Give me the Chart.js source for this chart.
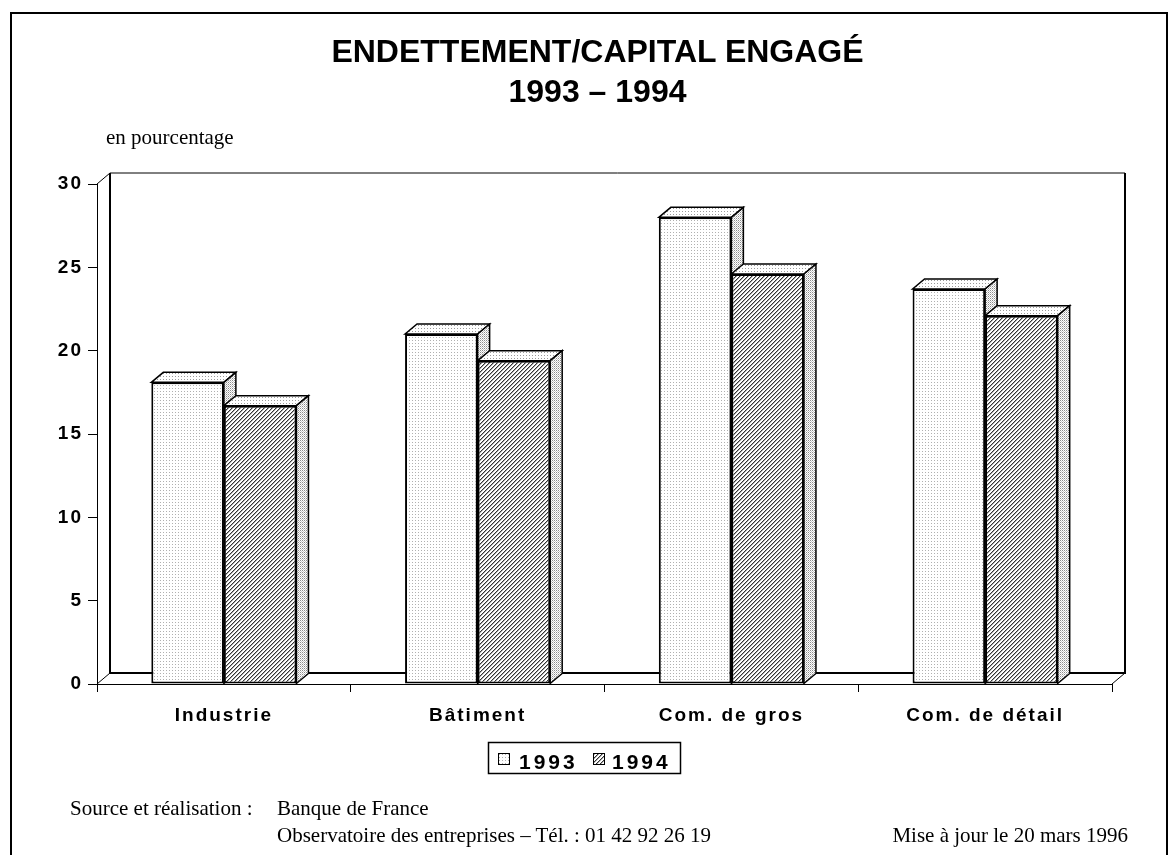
<!DOCTYPE html>
<html lang="fr">
<head>
<meta charset="UTF-8">
<title>Endettement/capital engagé 1993 – 1994</title>
<script src="https://cdn.jsdelivr.net/npm/chart.js"></script>
<style>
    body { margin: 0; background: #fff; }
    .page { position: relative; width: 1171px; height: 855px; overflow: hidden; }
    .cadre {
        position: absolute; left: 10px; top: 12px; width: 1154px; height: 900px;
        border: 2px solid #000; border-bottom: none;
    }
    .chart-container { position: absolute; left: 0; top: 0; width: 1171px; height: 855px; }
    .titre {
        position: absolute; left: 0; width: 1195px; text-align: center;
        font: bold 32px Arial, "Liberation Sans", sans-serif; line-height: 32px; white-space: nowrap;
    }
    .serif {
        position: absolute; font: 21px "Times New Roman", "Liberation Serif", serif;
        line-height: 21px; white-space: nowrap;
    }
</style>
</head>
<body>
<div class="page">
    <div class="cadre"></div>
    <div class="chart-container"><canvas id="graphique"></canvas></div>
    <div class="titre" style="top:35px">ENDETTEMENT/CAPITAL ENGAGÉ</div>
    <div class="titre" style="top:75px">1993 – 1994</div>
    <div class="serif" style="left:106px; top:127px">en pourcentage</div>
    <div class="serif" style="left:70px; top:798px">Source et réalisation :</div>
    <div class="serif" style="left:277px; top:798px">Banque de France</div>
    <div class="serif" style="left:277px; top:825px">Observatoire des entreprises – Tél. : 01 42 92 26 19</div>
    <div class="serif" style="right:43px; top:825px">Mise à jour le 20 mars 1996</div>
</div>

<script>
    // Données
    const categories = ['Industrie', 'Bâtiment', 'Com. de gros', 'Com. de détail'];
    const annees = ['1993', '1994'];
    const valeurs1993 = [18.1, 21.0, 28.0, 23.7];
    const valeurs1994 = [16.7, 19.4, 24.6, 22.1];
    const yMax = 30;
    const yPas = 5;

    // profondeur de la perspective
    const DX = 12, DY = -10;
    const DX_MUR = 13, DY_MUR = -11;

    // trames (points, hachures)
    function trame(taille, dessin) {
        const c = document.createElement('canvas');
        c.width = c.height = taille;
        const g = c.getContext('2d');
        g.fillStyle = '#fff';
        g.fillRect(0, 0, taille, taille);
        dessin(g);
        return g.createPattern(c, 'repeat');
    }
    const points = trame(3, g => { g.fillStyle = '#9a9a9a'; g.fillRect(1, 1, 1, 1); });
    const pointsFins = trame(3, g => { g.fillStyle = '#b0b0b0'; g.fillRect(1, 1, 1, 1); });
    const pointsDenses = trame(2, g => {
        g.fillStyle = '#8c8c8c'; g.fillRect(0, 0, 1, 1);
        g.fillStyle = '#c8c8c8'; g.fillRect(1, 1, 1, 1);
    });
    const hachures = trame(4, g => {
        g.fillStyle = '#333';
        for (let i = 0; i < 4; i++) g.fillRect(3 - i, i, 1, 1);
        g.fillStyle = '#aaa';
        for (let i = 0; i < 4; i++) g.fillRect((4 - i) % 4, i, 1, 1);
    });

    const motifs = [
        { face: pointsFins, dessus: points, cote: pointsDenses },
        { face: hachures, dessus: points, cote: pointsDenses }
    ];

    function face(ctx, pts, motif) {
        ctx.beginPath();
        ctx.moveTo(pts[0][0], pts[0][1]);
        pts.slice(1).forEach(p => ctx.lineTo(p[0], p[1]));
        ctx.closePath();
        ctx.fillStyle = motif;
        ctx.fill();
        ctx.stroke();
    }

    const relief = {
        id: 'relief',
        beforeDraw(chart) {
            chart.ctx.letterSpacing = '2px';
        },
        beforeDatasetsDraw(chart) {
            const { ctx, chartArea: a, scales: { y } } = chart;
            const haut = y.getPixelForValue(yMax);
            const bas = y.getPixelForValue(0);
            ctx.save();
            ctx.strokeStyle = '#000';

            // fond et plancher
            ctx.lineWidth = 1;
            ctx.beginPath();
            ctx.moveTo(a.left, haut);
            ctx.lineTo(a.left + DX_MUR, haut + DY_MUR);
            ctx.lineTo(a.right + DX_MUR, haut + DY_MUR);
            ctx.moveTo(a.left, bas);
            ctx.lineTo(a.left + DX_MUR, bas + DY_MUR);
            ctx.moveTo(a.right, bas);
            ctx.lineTo(a.right + DX_MUR, bas + DY_MUR);
            ctx.stroke();
            ctx.lineWidth = 2;
            ctx.beginPath();
            ctx.moveTo(a.left + DX_MUR, haut + DY_MUR);
            ctx.lineTo(a.left + DX_MUR, bas + DY_MUR);
            ctx.lineTo(a.right + DX_MUR, bas + DY_MUR);
            ctx.lineTo(a.right + DX_MUR, haut + DY_MUR);
            ctx.stroke();

            // dessus et côtés des barres
            ctx.lineWidth = 1.5;
            categories.forEach((_, i) => {
                chart.data.datasets.forEach((ds, d) => {
                    const barre = chart.getDatasetMeta(d).data[i];
                    const { x, y: yb, width, base } = barre.getProps(['x', 'y', 'width', 'base'], true);
                    const g = x - width / 2, dr = x + width / 2;
                    face(ctx, [[g, yb], [g + DX, yb + DY], [dr + DX, yb + DY], [dr, yb]], motifs[d].dessus);
                    face(ctx, [[dr, yb], [dr + DX, yb + DY], [dr + DX, base + DY], [dr, base]], motifs[d].cote);
                });
            });
            ctx.restore();
        },
        afterDraw(chart) {
            // légende encadrée
            const ctx = chart.ctx;
            ctx.save();
            ctx.letterSpacing = '0px';
            ctx.strokeStyle = '#000';
            ctx.lineWidth = 1.5;
            ctx.strokeRect(488.5, 742.5, 192, 31);
            const items = [{ xc: 498, xt: 519 }, { xc: 593, xt: 612 }];
            ctx.font = 'bold 21px Arial, "Liberation Sans", sans-serif';
            items.forEach((it, d) => {
                ctx.lineWidth = 1;
                ctx.fillStyle = motifs[d].face;
                ctx.fillRect(it.xc, 753, 11, 11);
                ctx.strokeRect(it.xc + 0.5, 753.5, 11, 11);
                ctx.fillStyle = '#000';
                ctx.letterSpacing = '3px';
                ctx.fillText(chart.data.datasets[d].label, it.xt, 769);
                ctx.letterSpacing = '0px';
            });
            ctx.restore();
        }
    };

    const police = { family: 'Arial, "Liberation Sans", sans-serif', size: 19, weight: 'bold' };

    new Chart(document.getElementById('graphique'), {
        type: 'bar',
        data: {
            labels: categories,
            datasets: [
                {
                    label: annees[0],
                    data: valeurs1993,
                    backgroundColor: motifs[0].face,
                    borderColor: '#000',
                    borderWidth: 2,
                    borderSkipped: false,
                    categoryPercentage: 0.572,
                    barPercentage: 1
                },
                {
                    label: annees[1],
                    data: valeurs1994,
                    backgroundColor: motifs[1].face,
                    borderColor: '#000',
                    borderWidth: 2,
                    borderSkipped: false,
                    categoryPercentage: 0.572,
                    barPercentage: 1
                }
            ]
        },
        options: {
            responsive: true,
            maintainAspectRatio: false,
            animation: false,
            events: [],
            layout: { padding: { left: 0, top: 184, right: 59, bottom: 111 } },
            plugins: {
                legend: { display: false },
                title: { display: false },
                tooltip: { enabled: false }
            },
            scales: {
                x: {
                    grid: { drawOnChartArea: false, tickLength: 8, color: '#000', offset: true },
                    border: { display: true, color: '#000', width: 1 },
                    ticks: { color: '#000', font: police, padding: 12, maxRotation: 0, autoSkip: false },
                    afterFit: s => { s.height = 60; }
                },
                y: {
                    min: 0,
                    max: yMax,
                    grid: { drawOnChartArea: false, tickLength: 9, color: '#000' },
                    border: { display: true, color: '#000', width: 1 },
                    ticks: { stepSize: yPas, color: '#000', font: police, padding: 5 },
                    afterFit: s => { s.width = 97; }
                }
            }
        },
        plugins: [relief]
    });
</script>
</body>
</html>
